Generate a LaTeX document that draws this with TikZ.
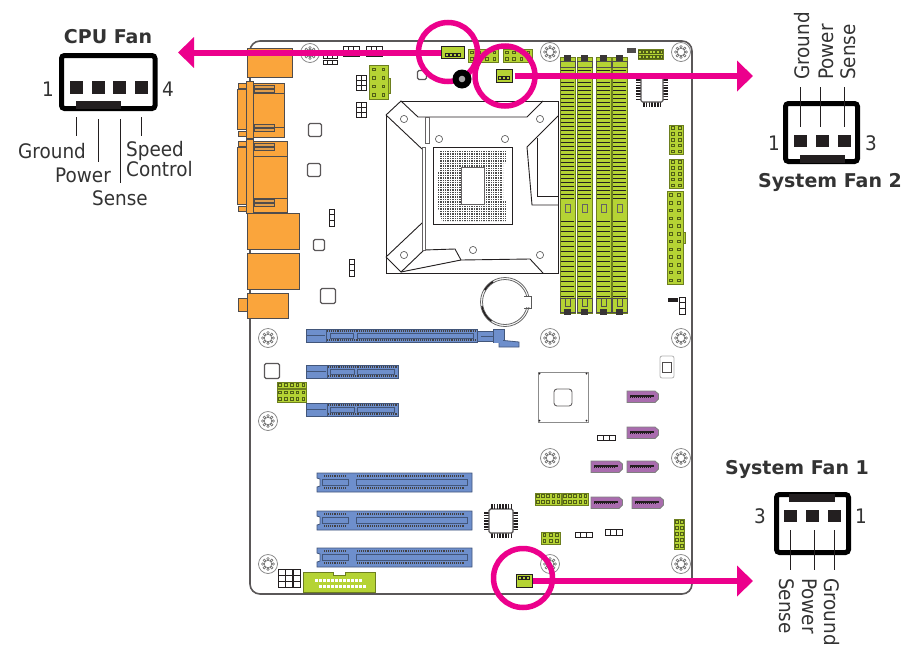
\documentclass[tikz,border=0pt]{standalone}
\usepackage{fontspec}
\setmainfont{DejaVu Sans}
\newfontfamily\labelfont[FakeStretch=0.92]{DejaVu Sans}
\usepackage{xcolor}
\usetikzlibrary{arrows.meta,positioning}
\definecolor{hotpink}{HTML}{EC008C}
\definecolor{ioorange}{HTML}{FAA53C}
\definecolor{slotlime}{HTML}{B5D334}
\definecolor{slotblue}{HTML}{6E8FCC}
\definecolor{sataviolet}{HTML}{A96CAE}
\definecolor{inkdark}{HTML}{231F20}
\definecolor{textgrey}{HTML}{333333}
\tikzset{
    pinlabel/.style={font=\labelfont\fontsize{20}{20}\selectfont, text=textgrey, inner sep=0pt},
    fantitle/.style={font=\bfseries\fontsize{19}{20}\selectfont, text=textgrey, inner sep=0pt, anchor=base},
    fanbody/.style={draw=black, line width=5pt, rounded corners=3pt},
    fanpin/.style={fill=inkdark, draw=none, inner sep=0pt, minimum width=13pt, minimum height=12.5pt},
    fankey/.style={fill=inkdark},
    leader/.style={draw=inkdark, line width=0.8pt},
    callout/.style={draw=hotpink, line width=5.5pt},
    pointer/.style={draw=hotpink, line width=6pt, -{Triangle[length=16pt,width=30pt]}},
    fanhdr/.style={draw=inkdark, fill=slotlime, line width=1pt, inner sep=0pt},
    iopart/.style={fill=ioorange, draw=inkdark!80, line width=1pt},
    limepart/.style={fill=slotlime, draw=slotlime!60!black, line width=0.6pt},
    bluepart/.style={fill=slotblue, draw=slotblue!60!black, line width=0.8pt},
    satapart/.style={fill=sataviolet, draw=gray, line width=0.8pt},
    chipbox/.style={fill=white, draw=inkdark!75, line width=1.4pt, rounded corners=1.5pt},
    thinline/.style={draw=inkdark, line width=0.8pt},
    dotstrip/.style={draw=inkdark!85, line width=2.2pt, dash pattern=on 1pt off 0.9pt},
    pinstrip/.style={draw=inkdark, line width=4.5pt, dash pattern=on 1.6pt off 1.2pt},
}
\begin{document}
\begin{tikzpicture}[x=1pt,y=-1pt]
        \useasboundingbox (0,0) rectangle (919,646);
        \fill[white] (0,0) rectangle (919,646);

        % board
        \draw[draw=inkdark!75,line width=1.6pt,rounded corners=10pt] (250,41) rectangle (692,594);

        % mounting holes
        \foreach \x/\y in {310/53,550/52,681/52,268/338,550/338,681/338,268/421,550/458,681/458,268/564,550/564,681/564}{
            \draw[gray,line width=0.7pt] (\x,\y) circle [radius=9.5];
            \draw[gray!80!black,line width=0.6pt] (\x,\y) circle [radius=3.8];
            \foreach \a in {0,45,...,315}{
                \draw[gray!80!black,line width=0.5pt] (\x,\y) ++(\a:5.2) circle [radius=1.3];
            }
        }

        % io panel
        \fill[iopart] (247,48) rectangle (292,77);
        \foreach \ya/\yb/\yc/\yd/\xe in {81/138/93/127/284,139/213/156/198/287}{
            \fill[iopart] (238,\ya+2) rectangle (246,\ya+7);
            \fill[iopart] (238,\yb-7) rectangle (246,\yb-2);
            \fill[iopart] (237,\ya+8) rectangle (246,\yb-9);
            \fill[iopart] (253,\ya+2) rectangle (\xe,\yb-1);
            \draw[inkdark!80] (253,\yc) -- (\xe,\yc);
            \draw[inkdark!80] (253,\yd) -- (\xe,\yd);
            \fill[iopart] (246,\ya) rectangle (253,\yb);
            \draw[inkdark!80,fill=ioorange!80!gray] (254,\ya+4) rectangle (274,\ya+7);
            \draw[inkdark!80,fill=ioorange!80!gray] (254,\ya+8) rectangle (274,\ya+11);
            \draw[inkdark!80,fill=ioorange!80!gray] (254,\yb-14) rectangle (274,\yb-11);
            \draw[inkdark!80,fill=ioorange!80!gray] (254,\yb-10) rectangle (274,\yb-7);
        }
        \fill[iopart] (247,213) rectangle (299,249);
        \fill[iopart] (247,253) rectangle (299,289);
        \fill[iopart] (238,298) rectangle (247,311);
        \fill[iopart] (247,293) rectangle (288,318);

        % small square parts
        \foreach \x/\y/\r in {422/75/4.5,315/130/6.5,314/170/6.5,319/245/5.5,328/296/7.5,272/371/7.5}{
            \draw[chipbox] (\x-\r,\y-\r) rectangle (\x+\r,\y+\r);
        }

        % cpu socket
        \draw[line width=1pt,inkdark] (386,101) rectangle (558,273);
        \fill[white] (386,101) -- (401,101) -- (386,115) -- cycle;
        \draw[line width=0.9pt,inkdark] (386,115) -- (401,101) -- (418,117) -- (527,117) -- (543,101);
        \draw[line width=0.9pt,inkdark] (386,115) -- (422,149);
        \draw[line width=0.9pt,inkdark] (386,257) -- (422,223);
        \draw[line width=0.9pt,inkdark] (386,257) -- (401,272) -- (424,250) -- (455,249) -- (461,260) -- (530,259) -- (543,273);
        \draw[line width=0.9pt,inkdark] (401,272) -- (461,260);
        \draw[line width=0.9pt,fill=white,draw=inkdark!70] (422,147) rectangle (425,250);
        \draw[line width=0.9pt,fill=white,draw=inkdark!70] (425.5,117) rectangle (429,143);
        \draw[line width=0.9pt,inkdark] (558,116) -- (527,147) -- (532,205) -- (558,205);
        \draw[line width=0.9pt,inkdark] (537,138) -- (537,196) -- (558,196);
        \foreach \x/\y in {404/119,439/139,404/255,473/250,540/119,505/139,540/255}{
            \draw[gray!80!black,line width=0.7pt] (\x,\y) circle [radius=3.6];
        }
        \draw[line width=1pt,inkdark] (433,147) rectangle (512,224);
        \fill[gray!60!black,even odd rule] (440,151) -- (506,151) -- (506,163) -- (503,163) -- (503,201) -- (506,201) -- (506,221) -- (442,221) -- (438,208) -- (438,172) -- (440,172) -- cycle
            (461,167) rectangle (484,204);
        \foreach \t in {437,439.4,...,507}{
            \draw[white,line width=0.6pt] (\t,150) -- (\t,222);
        }
        \foreach \t in {150,152.4,...,222}{
            \draw[white,line width=0.6pt] (437,\t) -- (507,\t);
        }
        \draw[inkdark!70,line width=1pt,fill=white] (461,167) rectangle (484,204);

        % battery
        \draw[gray!80!black,line width=0.8pt] (505,302) circle [radius=24.5];
        \draw[gray!80!black,line width=0.8pt] (505,302) circle [radius=22.5];
        \fill[white] (524,297) rectangle (531,307);
        \draw[gray!70!black,line width=0.8pt] (524,296) -- (531,296) -- (531,308) -- (524,308);
        \draw[inkdark,line width=1.4pt] (505,302) ++(210:23.5) arc (210:240:23.5);
        \draw[inkdark,line width=1.4pt] (505,302) ++(125:23.5) arc (125:170:23.5);

        % memory slots
        \foreach \x in {560,577,596,612}{
            \fill[limepart] (\x,57) rectangle (\x+15,313);
            \foreach \t in {70,74,...,198}{
                \draw[inkdark,line width=0.7pt] (\x+1,\t) -- (\x+14,\t);
            }
            \foreach \t in {221,226,...,296}{
                \draw[inkdark,line width=0.7pt] (\x+1,\t) -- (\x+14,\t);
            }
            \draw[inkdark!70,line width=0.6pt] (\x+5,204) rectangle (\x+10,212);
            \draw[inkdark!80,line width=0.6pt] (\x,61) rectangle (\x+15,67);
            \fill[inkdark!90] (\x+4,55) rectangle (\x+11,61);
            \draw[inkdark!80,line width=0.6pt] (\x,298) rectangle (\x+15,312);
            \draw[inkdark!80,line width=0.6pt] (\x+5,298) -- (\x+5,306) -- (\x+10,306) -- (\x+10,298);
            \fill[inkdark!90] (\x+4,309) rectangle (\x+11,315);
        }

        % lime headers
        \foreach \xa/\ya/\xb/\yb/\nc/\nr in {369/65/388/99/2/4,468/49/498/62/4/2,503/49/532/62/4/2,638/49/663/59/7/2,669/125/683/154/2/5,669/159/683/188/2/5,667/191/683/284/2/12,277/382/306/388/5/1,277/389/306/402/5/2,535/493/561/505/5/2,562/493/588/505/5/2,541/532/560/544/3/2,674/519/684/549/2/5}{
            \fill[limepart] (\xa,\ya) rectangle (\xb,\yb);
            \foreach \c in {1,...,\nc}{
                \foreach \r in {1,...,\nr}{
                    \pgfmathsetmacro\cx{\xa+(\c-.5)*(\xb-\xa)/\nc}
                    \pgfmathsetmacro\cy{\ya+(\r-.5)*(\yb-\ya)/\nr}
                    \draw[slotlime!45!black,line width=0.6pt] (\cx-1.3,\cy-1.3) rectangle (\cx+1.3,\cy+1.3);
                }
            }
        }
        \fill[limepart] (388,78) rectangle (390,93);
        \fill[limepart] (683,232) rectangle (685,243);
        \fill[inkdark!80] (627,48) rectangle (636,53);

        % black and white jumpers
        \foreach \xa/\ya/\xb/\yb/\nc/\nr in {356/75/366/90/2/3,356/102/366/117/2/3,329/209/334/226/1/3,349/259/354/276/1/3,323/54/337/58/3/1,323/60/337/64/3/1,343/46/359/56/3/2,366/46/382/56/3/2,679/297/685/314/1/3,597/435/615/440/3/1,575/532/592/537/3/1,605/529/622/535/3/1,278/569/285/587/1/3,285.5/569/292/587/1/3,293/569/300/587/1/3}{
            \foreach \c in {1,...,\nc}{
                \foreach \r in {1,...,\nr}{
                    \pgfmathsetmacro\cw{(\xb-\xa)/\nc}
                    \pgfmathsetmacro\ch{(\yb-\ya)/\nr}
                    \draw[inkdark,fill=white,line width=1pt] (\xa+\c*\cw-\cw,\ya+\r*\ch-\ch) rectangle (\xa+\c*\cw,\ya+\r*\ch);
                }
            }
        }
        \fill[inkdark] (668,298) rectangle (678,302);

        % pci express slots
        \fill[bluepart] (477,331) rectangle (493,341);
        \draw[slotblue!60!black] (481,336) -- (493,336);
        \fill[bluepart] (493,329) rectangle (504,342);
        \fill[bluepart] (499,340) -- (519,342) -- (519,347) -- (499,347) -- cycle;
        \fill[slotblue] (494,330) rectangle (503,343);
        \fill[bluepart] (306,329) rectangle (326,342);
        \fill[bluepart] (326,329) rectangle (477,342);
        \draw[dotstrip] (327,331) -- (476,331);
        \draw[dotstrip] (327,340) -- (476,340);
        \draw[bluepart] (330,333) rectangle (353,338);
        \draw[bluepart] (357,333) rectangle (473,338);
        \draw[slotblue!60!black] (307,335.5) -- (325,335.5);
        \foreach \ya in {365,403}{
            \fill[bluepart] (306,\ya) rectangle (327,\ya+13);
            \fill[bluepart] (327,\ya) rectangle (398,\ya+13);
            \draw[dotstrip] (328,\ya+2) -- (397,\ya+2);
            \draw[dotstrip] (328,\ya+11) -- (397,\ya+11);
            \draw[bluepart] (330,\ya+4.5) rectangle (354,\ya+9);
            \draw[bluepart] (357,\ya+4.5) rectangle (394,\ya+9);
            \draw[slotblue!60!black] (307,\ya+6.5) -- (326,\ya+6.5);
        }

        % pci slots
        \foreach \ya in {473,511,548}{
            \fill[bluepart] (317,\ya) -- (472,\ya) -- (472,\ya+19) -- (317,\ya+19) -- (317,\ya+14) -- (320,\ya+13) -- (320,\ya+6) -- (317,\ya+5) -- cycle;
            \draw[dotstrip] (324,\ya+3) -- (346,\ya+3);
            \draw[dotstrip] (324,\ya+15) -- (346,\ya+15);
            \draw[dotstrip] (357,\ya+3) -- (464,\ya+3);
            \draw[dotstrip] (357,\ya+15) -- (464,\ya+15);
            \draw[bluepart] (322,\ya+6) rectangle (348,\ya+12);
            \draw[bluepart] (356,\ya+6) rectangle (467,\ya+12);
        }

        % rear lime connector
        \fill[limepart] (303,572) -- (333,572) -- (333,575) -- (345,575) -- (345,572) -- (375,572) -- (375,592) -- (303,592) -- cycle;
        \foreach \c in {0,...,11}{
            \fill[white] (315+\c*4,579) rectangle (318+\c*4,582);
            \fill[white] (319+\c*4,585) rectangle (322+\c*4,588);
        }

        % chips
        \foreach \xa/\ya/\xb/\yb in {641/76/663/102,489/509/513/533}{
            \draw[pinstrip] (\xa-2.5,\ya+3) -- (\xa-2.5,\yb-2);
            \draw[pinstrip] (\xb+2.5,\ya+3) -- (\xb+2.5,\yb-2);
            \draw[pinstrip] (\xa+2,\yb+2.5) -- (\xb-2,\yb+2.5);
            \draw[chipbox] (\xa,\ya) rectangle (\xb,\yb);
        }
        \draw[pinstrip] (491,506.5) -- (511,506.5);
        \draw[gray!90,line width=0.9pt] (538,372) rectangle (588,422);
        \draw[inkdark!70,fill=white,line width=0.9pt,rounded corners=3pt] (554,389) rectangle (572,406);
        \foreach \x/\y in {539.5/373.5,586.5/373.5,539.5/420.5,586.5/420.5}{
            \fill[inkdark] (\x,\y) circle [radius=1];
        }
        \draw[gray!60,line width=0.8pt,rounded corners=2pt] (660,356) rectangle (674,378);
        \draw[inkdark!80,fill=white,line width=0.9pt] (662,362) rectangle (671,372);

        % sata ports
        \foreach \x/\y in {627/391,627/427,591/461,627/461,591/497,632/497}{
            \fill[satapart] (\x,\y) -- (\x+28,\y) -- (\x+31.5,\y+3) -- (\x+31.5,\y+8) -- (\x+28,\y+11.5) -- (\x,\y+11.5) -- cycle;
            \fill[inkdark] (\x+2.5,\y+3.5) rectangle (\x+27,\y+5.5);
            \draw[inkdark,line width=1.5pt,dash pattern=on 1pt off 1pt] (\x+3,\y+6.2) -- (\x+25,\y+6.2);
        }

        % fan headers on the board
        \node[fanhdr,minimum width=23pt,minimum height=12pt] (cpuhdr) at (452.5,52.5) {};
        \node[fanhdr,minimum width=16pt,minimum height=13pt] (systwohdr) at (504,76) {};
        \node[fanhdr,minimum width=16pt,minimum height=13pt] (sysonehdr) at (524,581) {};
        \fill[inkdark] (445,53) rectangle (461,57);
        \foreach \t in {0,1,2,3}{
            \draw[fanhdr,fill=slotlime,line width=0.6pt] (445.5+\t*4,53.5) rectangle (448+\t*4,56.5);
        }
        \foreach \t in {0,1,2}{
            \draw[fanhdr,line width=0.6pt] (498.5+\t*4,76.5) rectangle (501+\t*4,79.5);
            \draw[fanhdr,line width=0.6pt] (518.5+\t*4,576.5) rectangle (521+\t*4,579.5);
        }

        % callouts and arrows
        \node[callout,circle,minimum size=59pt,inner sep=0pt] (cpuring) at (448,52) {};
        \node[callout,circle,minimum size=60pt,inner sep=0pt] (systworing) at (505,76) {};
        \node[callout,circle,minimum size=59pt,inner sep=0pt] (sysonering) at (523,578) {};
        \node[circle,fill=black,minimum size=19pt,inner sep=0pt] (fanhole) at (462,79) {};
        \fill[gray!70] (fanhole) circle [radius=3.3];

        \coordinate (cputip) at (178,52.5);
        \coordinate (systwotip) at (753,76);
        \coordinate (sysonetip) at (753,581);
        \draw[pointer] (cpuhdr.west) -- (cputip);
        \draw[pointer,shorten <=2pt] (systwohdr.east) -- (systwotip);
        \draw[pointer] (sysonehdr.east) -- (sysonetip);

        % cpu fan
        \node[fantitle] (cputitle) at (108,43) {CPU Fan};
        \draw[fanbody] (61.5,55.5) rectangle (155,108.5);
        \fill[fankey] (76,101) rectangle (121,109);
        \node[fanpin] (cpupina) at (76.5,87.5) {};
        \node[fanpin] (cpupinb) at (98.5,87.5) {};
        \node[fanpin] (cpupinc) at (119.5,87.5) {};
        \node[fanpin] (cpupind) at (141.5,87.5) {};
        \node[pinlabel] (cpuone) at (48,89) {1};
        \node[pinlabel] (cpufour) at (168,89) {4};
        \coordinate (cpula) at (76,117);
        \coordinate (cpulb) at (76,136);
        \coordinate (cpuma) at (98,119);
        \coordinate (cpumb) at (98,162);
        \coordinate (cpuna) at (120,119);
        \coordinate (cpunb) at (120,183);
        \coordinate (cpuoa) at (141,117);
        \coordinate (cpuob) at (141,136);
        \foreach \p/\q in {cpula/cpulb,cpuma/cpumb,cpuna/cpunb,cpuoa/cpuob}{
            \draw[leader] (\p) -- (\q);
        }
        \node[pinlabel] (cpuground) at (52,151) {Ground};
        \node[pinlabel] (cpupower) at (83,175) {Power};
        \node[pinlabel] (cpusense) at (120,198) {Sense};
        \node[pinlabel,align=left,anchor=west] (cpuspeed) at (126,159) {Speed\\Control};

        % system fan 2
        \node[fantitle] (systwotitle) at (830,187) {System Fan 2};
        \draw[fanbody] (785.5,103.5) rectangle (857.5,161.5);
        \fill[fankey] (800,155) rectangle (845,163);
        \node[fanpin] (systwopina) at (800.5,141) {};
        \node[fanpin] (systwopinb) at (822.5,141) {};
        \node[fanpin] (systwopinc) at (844.5,141) {};
        \node[pinlabel] (systwoone) at (774,143) {1};
        \node[pinlabel] (systwothree) at (871,143) {3};
        \coordinate (systwola) at (800,87);
        \coordinate (systwolb) at (800,127);
        \coordinate (systwoma) at (820,87);
        \coordinate (systwomb) at (820,127);
        \coordinate (systwona) at (844,87);
        \coordinate (systwonb) at (844,127);
        \foreach \p/\q in {systwola/systwolb,systwoma/systwomb,systwona/systwonb}{
            \draw[leader] (\p) -- (\q);
        }
        \node[pinlabel,rotate=90,anchor=base west] (systwoground) at (809,80) {Ground};
        \node[pinlabel,rotate=90,anchor=base west] (systwopower) at (833,80) {Power};
        \node[pinlabel,rotate=90,anchor=base west] (systwosense) at (855,80) {Sense};

        % system fan 1
        \node[fantitle] (sysonetitle) at (797,474) {System Fan 1};
        \draw[fanbody] (776.5,494.5) rectangle (848.5,552.5);
        \fill[fankey] (789,494) rectangle (835,502);
        \node[fanpin] (sysonepina) at (790.5,516) {};
        \node[fanpin] (sysonepinb) at (812.5,516) {};
        \node[fanpin] (sysonepinc) at (834.5,516) {};
        \node[pinlabel] (sysonethree) at (760,516) {3};
        \node[pinlabel] (sysoneone) at (861,516) {1};
        \coordinate (sysonela) at (790,530);
        \coordinate (sysonelb) at (790,570);
        \coordinate (sysonema) at (814,530);
        \coordinate (sysonemb) at (814,570);
        \coordinate (sysonena) at (834,530);
        \coordinate (sysonenb) at (834,570);
        \foreach \p/\q in {sysonela/sysonelb,sysonema/sysonemb,sysonena/sysonenb}{
            \draw[leader] (\p) -- (\q);
        }
        \node[pinlabel,rotate=-90,anchor=base west] (sysonesense) at (779,578) {Sense};
        \node[pinlabel,rotate=-90,anchor=base west] (sysonepower) at (802,578) {Power};
        \node[pinlabel,rotate=-90,anchor=base west] (sysoneground) at (824,578) {Ground};
\end{tikzpicture}
\end{document}
